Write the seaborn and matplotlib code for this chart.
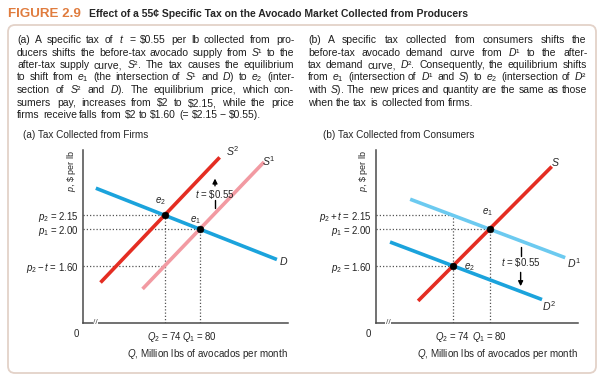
import matplotlib
matplotlib.use("Agg")
import matplotlib.pyplot as plt
from matplotlib.patches import FancyBboxPatch
import seaborn as sns

# ---- data ----
# panel (a): tax collected from firms
d_q = [62.2, 93.2]
d_p = [2.445, 1.67]
s1_q = [70.2, 91.0]
s1_p = [1.35, 2.73]
s2_q = [63.0, 83.4]
s2_p = [1.42, 2.78]
eq_a_q = [74, 80]
eq_a_p = [2.15, 2.00]

# panel (b): tax collected from consumers
d1_q = [67.0, 92.4]
d1_p = [2.325, 1.69]
d2_q = [63.7, 88.6]
d2_p = [1.86, 1.235]
s_q = [68.3, 90.2]
s_p = [1.22, 2.68]
eq_b_q = [80, 74]
eq_b_p = [2.00, 1.60]

price_ticks = [2.15, 2.00, 1.60]
qty_ticks = [74, 80]
tax = 0.55

ylabels_a = [r"$p_2$ = 2.15", r"$p_1$ = 2.00", r"$p_2 - t$ = 1.60"]
ylabels_b = [r"$p_2 + t$ = 2.15", r"$p_1$ = 2.00", r"$p_2$ = 1.60"]
xlabels = [r"$Q_2$ = 74", r"$Q_1$ = 80"]

# superscripts as plain glyphs so the lines stay compact
text_a = [
    r"(a) A specific tax of $t$ = \$0.55 per lb collected from pro-",
    "ducers shifts the before-tax avocado supply from $S$\u00b9 to the",
    "after-tax supply curve, $S$\u00b2. The tax causes the equilibrium",
    "to shift from $e_1$ (the intersection of $S$\u00b9 and $D$) to $e_2$ (inter-",
    "section of $S$\u00b2 and $D$). The equilibrium price, which con-",
    r"sumers pay, increases from \$2 to \$2.15, while the price",
    "firms receive falls from \\$2 to \\$1.60 (= \\$2.15 \u2212 \\$0.55).",
]
text_b = [
    r"(b) A specific tax collected from consumers shifts the",
    "before-tax avocado demand curve from $D$\u00b9 to the after-",
    "tax demand curve, $D$\u00b2. Consequently, the equilibrium shifts",
    "from $e_1$ (intersection of $D$\u00b9 and $S$) to $e_2$ (intersection of $D$\u00b2",
    r"with $S$). The new prices and quantity are the same as those",
    r"when the tax is collected from firms.",
]

RED = "#e42d22"
PINK = "#f29aa2"
BLUE = "#1ba3dc"
LIGHT_BLUE = "#6ccaf0"
AXIS = "#4a4a4a"

sns.set_style("white")
plt.rcParams["font.family"] = ["Liberation Sans", "DejaVu Sans"]
plt.rcParams["mathtext.fontset"] = "custom"
plt.rcParams["mathtext.rm"] = "Liberation Sans"
plt.rcParams["mathtext.it"] = "Liberation Sans:italic"
plt.rcParams["mathtext.bf"] = "Liberation Sans:bold"

W, H = 601, 381
fig = plt.figure(figsize=(W / 100, H / 100), dpi=100)
renderer = fig.canvas.get_renderer()


def fx(x):
    return x / W


def fy(y):
    return 1 - y / H


# rounded frame
frame = FancyBboxPatch((0.08, 0.08), 5.88, 3.48,
                       boxstyle="round,pad=0,rounding_size=0.07",
                       transform=fig.dpi_scale_trans, fc="none",
                       ec="#e3d2c8", lw=1.3)
fig.patches.append(frame)

# figure title
fig.text(fx(8), fy(17), "FIGURE 2.9", color="#e07c3e",
         fontsize=9.6, fontweight="bold", va="baseline")
fig.text(fx(89), fy(17),
         "Effect of a 55\u00a2 Specific Tax on the Avocado Market Collected from Producers",
         fontsize=7.5, fontweight="bold", va="baseline")


def justify(lines, x0, x1, y0, step, size):
    for i, line in enumerate(lines):
        y = fy(round(y0 + i * step))
        words = line.split(" ")
        texts = [fig.text(0, y, w, fontsize=size, va="baseline", color="#1e1e1e")
                 for w in words]
        widths = [t.get_window_extent(renderer).width for t in texts]
        last = i == len(lines) - 1 and sum(widths) < 0.85 * (x1 - x0)
        if last or len(words) == 1:
            gap = size * 100 / 72 * 0.28
        else:
            gap = (x1 - x0 - sum(widths)) / (len(words) - 1)
        x = x0
        for t, w in zip(texts, widths):
            t.set_x(fx(round(x)))
            x += w + gap


justify(text_a, 17, 294, 43, 12.5, 7.5)
justify(text_b, 308, 587, 43, 12.5, 7.5)

fig.text(fx(23), fy(135), "(a) Tax Collected from Firms", fontsize=7.2, va="center")
fig.text(fx(323), fy(135), "(b) Tax Collected from Consumers", fontsize=7.2, va="center")

ax_a = fig.add_axes([fx(83), fy(323), (288 - 83) / W, (323 - 150) / H])
ax_b = fig.add_axes([fx(376), fy(323), (578 - 376) / W, (323 - 150) / H])


def setup(ax, xlim, ylabels, zero_x, brk_x):
    ax.set_xlim(*xlim)
    ax.set_ylim(0.98, 2.86)
    ax.set_facecolor("none")
    for side in ["top", "right"]:
        ax.spines[side].set_visible(False)
    for side in ["left", "bottom"]:
        ax.spines[side].set_color(AXIS)
        ax.spines[side].set_linewidth(1.1)
    ax.set_yticks(price_ticks, ylabels)
    ax.set_xticks(qty_ticks, xlabels)
    ax.tick_params(length=0, labelsize=6.9, pad=3, colors="#222222")
    ax.tick_params(axis="x", pad=5)
    ax.text(zero_x, -0.065, "0", transform=ax.transAxes, fontsize=6.9,
            ha="center", va="center")
    ax.text(zero_x - 0.02, 0.88, r"$p$, \$ per lb", transform=ax.transAxes,
            rotation=90, fontsize=6.5, ha="center", va="center")
    ax.text(1.0, -0.18, r"$Q$, Million lbs of avocados per month",
            transform=ax.transAxes, fontsize=7.1, ha="right", va="center")
    ax.text(brk_x, 0, "//", transform=ax.transAxes, fontsize=6, ha="center",
            va="center", color=AXIS,
            bbox=dict(fc="white", ec="none", pad=0.3))


def guides(ax, pts_q, pts_p, extra_q, extra_p):
    x0 = ax.get_xlim()[0]
    y0 = ax.get_ylim()[0]
    kw = dict(color="#555555", lw=0.9, ls=(0, (1, 1.6)), zorder=1)
    for q, p in zip(pts_q, pts_p):
        ax.plot([x0, q], [p, p], **kw)
        ax.plot([q, q], [y0, p], **kw)
    ax.plot([x0, extra_q], [extra_p, extra_p], **kw)


def curve(ax, q, p, color):
    sns.lineplot(x=q, y=p, ax=ax, color=color, linewidth=2.6,
                 solid_capstyle="butt", zorder=3)


# ---- panel (a) ----
setup(ax_a, (60, 95.1), ylabels_a, -0.034, 0.06)
guides(ax_a, eq_a_q, eq_a_p, eq_a_q[0], eq_a_p[0] - tax)
curve(ax_a, s1_q, s1_p, PINK)
curve(ax_a, d_q, d_p, BLUE)
curve(ax_a, s2_q, s2_p, RED)
sns.scatterplot(x=eq_a_q, y=eq_a_p, ax=ax_a, color="black", s=24,
                edgecolor="black", zorder=5)
ax_a.text(73.3, 2.31, r"$e_2$", fontsize=7, ha="center", va="center")
ax_a.text(79.2, 2.10, r"$e_1$", fontsize=7, ha="center", va="center")
ax_a.text(85.6, 2.85, r"$S^2$", fontsize=7.6, ha="center", va="center")
ax_a.text(91.8, 2.74, r"$S^1$", fontsize=7.6, ha="center", va="center")
ax_a.text(94.3, 1.65, r"$D$", fontsize=7.6, ha="center", va="center")
ax_a.annotate("", xy=(82.6, 2.58), xytext=(82.6, 2.44),
              arrowprops=dict(arrowstyle="-|>", color="black", lw=1,
                              mutation_scale=7))
ax_a.plot([82.6, 82.6], [2.23, 2.32], color="black", lw=1)
ax_a.text(82.6, 2.38, r"$t$ = \$0.55", fontsize=7, ha="center", va="center")

# ---- panel (b) ----
setup(ax_b, (61.4, 94.5), ylabels_b, -0.04, 0.06)
guides(ax_b, [eq_b_q[1], eq_b_q[0]], [eq_b_p[1] + tax, eq_b_p[0]],
       eq_b_q[1], eq_b_p[1])
curve(ax_b, d1_q, d1_p, LIGHT_BLUE)
curve(ax_b, d2_q, d2_p, BLUE)
curve(ax_b, s_q, s_p, RED)
sns.scatterplot(x=eq_b_q, y=eq_b_p, ax=ax_b, color="black", s=24,
                edgecolor="black", zorder=5)
ax_b.text(79.6, 2.18, r"$e_1$", fontsize=7, ha="center", va="center")
ax_b.text(75.8, 1.59, r"$e_2$", fontsize=7, ha="left", va="center")
ax_b.text(90.8, 2.73, r"$S$", fontsize=7.6, ha="center", va="center")
ax_b.text(93.8, 1.63, r"$D^1$", fontsize=7.6, ha="center", va="center")
ax_b.text(89.8, 1.16, r"$D^2$", fontsize=7.6, ha="center", va="center")
ax_b.plot([85.1, 85.1], [1.71, 1.81], color="black", lw=1)
ax_b.annotate("", xy=(85.1, 1.35), xytext=(85.1, 1.56),
              arrowprops=dict(arrowstyle="-|>", color="black", lw=1,
                              mutation_scale=7))
ax_b.text(85.1, 1.635, r"$t$ = \$0.55", fontsize=7, ha="center", va="center")

fig.savefig("out.png", dpi=100)
